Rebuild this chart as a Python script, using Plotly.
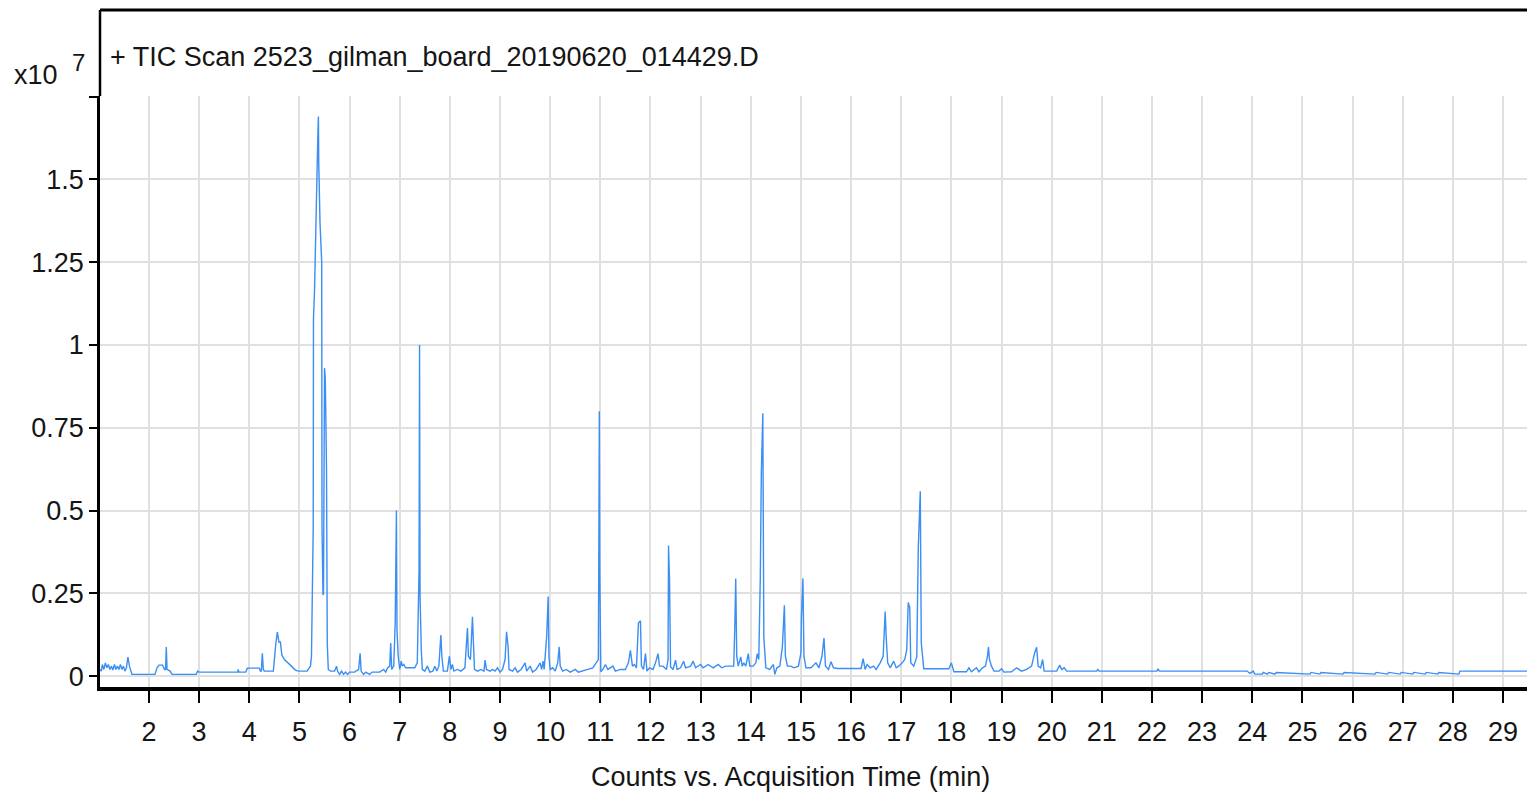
import plotly.graph_objects as go

# ---- data (time in min, counts in units of 1e7) ----
time_min = [
    1.02, 1.05, 1.07, 1.10, 1.13, 1.16, 1.19, 1.22, 1.25, 1.28, 1.31, 1.34, 1.37, 1.40, 1.43, 1.46, 1.49,
    1.52, 1.55, 1.58, 1.61, 1.63, 1.66, 2.12, 2.16, 2.20, 2.27, 2.31, 2.33, 2.345, 2.36, 2.42, 2.46, 2.94,
    2.97, 3.00, 3.77, 3.78, 3.79, 3.93, 3.96, 4.20, 4.22, 4.24, 4.26, 4.28, 4.30, 4.48, 4.50, 4.53, 4.56,
    4.59, 4.62, 4.65, 4.70, 4.75, 4.80, 4.86, 4.92, 4.98, 5.15, 5.20,
    5.22, 5.24, 5.26, 5.275, 5.28, 5.30, 5.365, 5.378, 5.385, 5.41, 5.444, 5.45, 5.47, 5.48, 5.50, 5.515,
    5.53, 5.54, 5.555, 5.575, 5.62, 5.70, 5.74, 5.76, 5.80, 5.84, 5.88, 5.92, 5.96, 6.00, 6.10, 6.18, 6.21,
    6.23, 6.28, 6.32, 6.40, 6.45, 6.60, 6.68, 6.72, 6.76, 6.80, 6.82, 6.84, 6.88, 6.91, 6.934, 6.945, 6.97,
    7.00, 7.03, 7.05, 7.08, 7.12, 7.20, 7.30, 7.35, 7.37, 7.385, 7.395, 7.405, 7.43, 7.45, 7.50, 7.55, 7.60,
    7.66, 7.70, 7.74, 7.78, 7.80, 7.82, 7.84, 7.87, 7.95, 7.99, 8.02, 8.05, 8.08, 8.15, 8.22, 8.30, 8.35,
    8.37, 8.41, 8.45, 8.47, 8.49, 8.55, 8.62, 8.68, 8.70, 8.73, 8.80, 8.85, 8.90, 8.95, 9.00, 9.05, 9.10,
    9.13, 9.16, 9.18, 9.25, 9.30, 9.35, 9.42, 9.50, 9.53, 9.60, 9.65, 9.72, 9.80, 9.83, 9.86, 9.88, 9.90,
    9.93, 9.96, 9.975, 10.00, 10.05, 10.10, 10.15, 10.18, 10.20, 10.25, 10.32, 10.40, 10.50, 10.56, 10.65,
    10.75, 10.85, 10.92, 10.96, 10.97, 10.98, 10.99, 11.00, 11.01, 11.05, 11.10, 11.15, 11.25, 11.30,
    11.40, 11.50, 11.56, 11.60, 11.64, 11.68, 11.72, 11.76, 11.80, 11.82, 11.86, 11.90, 11.93, 11.98,
    12.05, 12.10, 12.15, 12.18, 12.25, 12.32, 12.35, 12.36, 12.38, 12.40, 12.45, 12.50, 12.53, 12.60,
    12.66, 12.70, 12.80, 12.85, 12.90, 13.00, 13.05, 13.15, 13.25, 13.35, 13.42, 13.50, 13.60, 13.66,
    13.68, 13.70, 13.72, 13.75, 13.80, 13.83, 13.86, 13.90, 13.95, 13.98, 14.05, 14.10, 14.13, 14.16,
    14.19, 14.21, 14.24, 14.26, 14.30, 14.38, 14.45, 14.48, 14.52, 14.58, 14.63, 14.67, 14.69, 14.73,
    14.80, 14.86, 14.95, 15.00, 15.01, 15.04, 15.06, 15.10, 15.20, 15.30, 15.36, 15.42, 15.46, 15.49,
    15.55, 15.60, 15.65, 15.72, 16.20, 16.24, 16.28, 16.32, 16.38, 16.45, 16.50, 16.58, 16.64, 16.66,
    16.68, 16.70, 16.73, 16.78, 16.85, 16.90, 16.95, 17.02, 17.07, 17.11, 17.14, 17.17, 17.19, 17.25,
    17.31, 17.34, 17.38, 17.40, 17.42, 17.45, 17.60, 17.95, 18.00, 18.03, 18.05, 18.30, 18.35, 18.40,
    18.50, 18.55, 18.62, 18.68, 18.72, 18.74, 18.76, 18.80, 18.85, 18.95, 19.00, 19.05, 19.20, 19.30,
    19.40, 19.50, 19.60, 19.66, 19.70, 19.73, 19.78, 19.82, 19.85, 19.95, 20.10, 20.16, 20.20, 20.25,
    20.30, 20.90, 20.92, 20.95, 22.10, 22.12, 22.15, 23.90, 23.95, 24.02, 24.05, 24.20, 24.22, 24.30,
    24.33, 24.45, 24.48, 25.15, 25.17, 25.35, 25.37, 25.81, 25.83, 26.45, 26.47, 26.70, 26.72, 26.95,
    26.97, 27.20, 27.22, 27.45, 27.47, 27.70, 27.72, 28.12, 28.14, 29.64,
]
counts_1e7 = [
    0.020, 0.015, 0.035, 0.020, 0.040, 0.025, 0.035, 0.020, 0.030, 0.018, 0.035, 0.020, 0.030, 0.020, 0.035, 0.020, 0.030,
    0.015, 0.025, 0.057, 0.030, 0.020, 0.005, 0.005, 0.025, 0.033, 0.033, 0.020, 0.020, 0.088, 0.020, 0.015, 0.005, 0.005,
    0.015, 0.012, 0.012, 0.020, 0.012, 0.012, 0.024, 0.024, 0.015, 0.015, 0.069, 0.020, 0.015, 0.015, 0.060, 0.100, 0.133,
    0.103, 0.103, 0.063, 0.050, 0.042, 0.035, 0.027, 0.018, 0.015, 0.015, 0.025,
    0.030, 0.060, 0.380, 0.450, 1.080, 1.160, 1.620, 1.690, 1.550, 1.370, 1.250, 0.450, 0.245, 0.250, 0.930, 0.900,
    0.740, 0.620, 0.100, 0.020, 0.015, 0.015, 0.030, 0.015, 0.005, 0.015, 0.005, 0.012, 0.005, 0.012, 0.012, 0.020, 0.069,
    0.015, 0.005, 0.012, 0.005, 0.012, 0.012, 0.020, 0.012, 0.025, 0.030, 0.100, 0.020, 0.030, 0.160, 0.500, 0.140, 0.060,
    0.020, 0.045, 0.030, 0.035, 0.025, 0.025, 0.025, 0.040, 0.240, 0.320, 1.000, 0.240, 0.078, 0.020, 0.015, 0.030, 0.012,
    0.015, 0.030, 0.015, 0.030, 0.100, 0.124, 0.060, 0.015, 0.015, 0.060, 0.020, 0.035, 0.015, 0.020, 0.015, 0.025, 0.145,
    0.060, 0.050, 0.179, 0.100, 0.020, 0.015, 0.020, 0.015, 0.048, 0.020, 0.015, 0.020, 0.015, 0.025, 0.012, 0.020, 0.050,
    0.134, 0.090, 0.020, 0.015, 0.025, 0.012, 0.020, 0.040, 0.015, 0.030, 0.012, 0.020, 0.040, 0.020, 0.045, 0.020, 0.060,
    0.120, 0.240, 0.060, 0.020, 0.025, 0.015, 0.040, 0.088, 0.030, 0.015, 0.020, 0.012, 0.020, 0.012, 0.015,
    0.020, 0.025, 0.040, 0.050, 0.380, 0.800, 0.310, 0.220, 0.013, 0.020, 0.035, 0.020, 0.030, 0.015,
    0.020, 0.020, 0.040, 0.078, 0.030, 0.035, 0.025, 0.160, 0.167, 0.030, 0.020, 0.068, 0.015, 0.025,
    0.020, 0.040, 0.068, 0.030, 0.030, 0.020, 0.050, 0.394, 0.287, 0.028, 0.020, 0.048, 0.020, 0.025,
    0.045, 0.025, 0.030, 0.045, 0.025, 0.035, 0.025, 0.035, 0.025, 0.035, 0.025, 0.030, 0.030, 0.030,
    0.140, 0.295, 0.060, 0.030, 0.058, 0.030, 0.040, 0.030, 0.068, 0.030, 0.030, 0.040, 0.068, 0.050,
    0.300, 0.610, 0.794, 0.118, 0.025, 0.020, 0.035, 0.005, 0.025, 0.030, 0.088, 0.214, 0.060, 0.030,
    0.030, 0.025, 0.030, 0.070, 0.178, 0.295, 0.060, 0.025, 0.025, 0.040, 0.025, 0.060, 0.115, 0.030,
    0.020, 0.043, 0.025, 0.023, 0.023, 0.053, 0.020, 0.035, 0.025, 0.030, 0.020, 0.040, 0.060, 0.120,
    0.195, 0.118, 0.040, 0.025, 0.045, 0.025, 0.030, 0.040, 0.050, 0.080, 0.222, 0.207, 0.040, 0.030,
    0.058, 0.387, 0.558, 0.100, 0.058, 0.022, 0.022, 0.022, 0.040, 0.022, 0.013, 0.013, 0.025, 0.013,
    0.025, 0.013, 0.025, 0.030, 0.060, 0.088, 0.050, 0.030, 0.015, 0.015, 0.022, 0.012, 0.013, 0.025,
    0.015, 0.020, 0.030, 0.070, 0.087, 0.030, 0.025, 0.050, 0.015, 0.015, 0.015, 0.033, 0.020, 0.025,
    0.015, 0.015, 0.020, 0.015, 0.015, 0.022, 0.015, 0.015, 0.008, 0.015, 0.006, 0.006, 0.011, 0.006,
    0.011, 0.006, 0.011, 0.006, 0.011, 0.006, 0.011, 0.006, 0.011, 0.006, 0.011, 0.006, 0.011, 0.006,
    0.011, 0.006, 0.011, 0.006, 0.011, 0.006, 0.011, 0.006, 0.015, 0.015,
]

y_tick_vals = [0, 0.25, 0.5, 0.75, 1.0, 1.25, 1.5, 1.75]
y_tick_text = ["0", "0.25", "0.5", "0.75", "1", "1.25", "1.5", ""]
x_tick_vals = list(range(2, 30))
x_tick_text = [str(v) for v in x_tick_vals]

title_text = "+ TIC Scan 2523_gilman_board_20190620_014429.D"
x_title_text = "Counts vs. Acquisition Time (min)"

FONT = "Liberation Sans, Arial, sans-serif"
FS = 27
TXT = "#151515"

# page body adds an 8 px offset; plot area is 1435 x 591 px
PW, PH = 1435.0, 591.0

fig = go.Figure()
fig.add_trace(go.Scatter(
    x=time_min, y=counts_1e7, mode="lines",
    line=dict(color="#3b8ef3", width=1.4),
    hoverinfo="skip", showlegend=False,
))

TOP_EXT = 1 + (96 - 10) / PH

fig.update_layout(
    width=1527, height=787,
    margin=dict(l=92, r=0, t=88, b=108, pad=0),
    paper_bgcolor="white", plot_bgcolor="white",
    font=dict(family=FONT, size=FS, color=TXT),
    xaxis=dict(
        range=[1.023, 29.638], tickmode="array", tickvals=x_tick_vals, ticktext=x_tick_text,
        showgrid=True, gridcolor="#e0e0e0", gridwidth=1.5,
        showline=True, linecolor="black", linewidth=4,
        ticks="outside", ticklen=12, tickwidth=2, tickcolor="black",
        ticklabelstandoff=6, zeroline=False,
        tickfont=dict(family=FONT, size=FS, color=TXT),
    ),
    yaxis=dict(
        range=[-0.033, 1.752], tickmode="array", tickvals=y_tick_vals, ticktext=y_tick_text,
        showgrid=True, gridcolor="#e0e0e0", gridwidth=1.5,
        showline=True, linecolor="black", linewidth=2.5,
        ticks="outside", ticklen=8, tickwidth=1.5, tickcolor="black",
        ticklabelstandoff=0, zeroline=False,
        tickfont=dict(family=FONT, size=FS, color=TXT),
    ),
    shapes=[
        dict(type="line", xref="paper", yref="paper", x0=0, x1=0, y0=1, y1=TOP_EXT,
             line=dict(color="black", width=2.5)),
        dict(type="line", xref="paper", yref="paper", x0=0, x1=1, y0=TOP_EXT, y1=TOP_EXT,
             line=dict(color="black", width=3)),
    ],
    annotations=[
        dict(text=title_text, xref="paper", yref="paper", x=(108 - 100) / PW, y=1 + (96 - 57) / PH,
             xanchor="left", yanchor="middle", showarrow=False,
             font=dict(family=FONT, size=FS, color=TXT)),
        dict(text="x10", xref="paper", yref="paper", x=(12 - 100) / PW, y=1 + (96 - 75) / PH,
             xanchor="left", yanchor="middle", showarrow=False,
             font=dict(family=FONT, size=FS, color=TXT)),
        dict(text="7", xref="paper", yref="paper", x=(78 - 100) / PW, y=1 + (96 - 63) / PH,
             xanchor="center", yanchor="middle", showarrow=False,
             font=dict(family=FONT, size=24, color=TXT)),
        dict(text=x_title_text, xref="paper", yref="paper", x=(790 - 100) / PW, y=(687 - 777) / PH,
             xanchor="center", yanchor="middle", showarrow=False,
             font=dict(family=FONT, size=FS, color=TXT)),
    ],
)

fig.write_html("out.html")
